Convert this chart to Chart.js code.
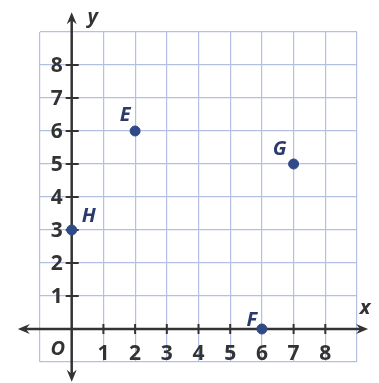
<!DOCTYPE html>
<html><head><meta charset="utf-8">
<script src="https://cdn.jsdelivr.net/npm/chart.js@4"></script>
<style>html,body{margin:0;padding:0;background:#fff;}canvas{display:block;}</style>
</head><body>
<canvas id="c" width="379" height="383"></canvas>
<script>
const pointNames = ['E', 'G', 'H', 'F'];
const xValues = [2, 7, 0, 6];
const yValues = [6, 5, 3, 0];
const xTickLabels = ['1','2','3','4','5','6','7','8'];
const yTickLabels = ['1','2','3','4','5','6','7','8'];
const axisMin = -1, axisMax = 9;

const labelOffsets = {E:[-10,-16], G:[-14,-15], H:[17,-14], F:[-10,-9]};

const overlay = {
  id: 'overlay',
  beforeDatasetsDraw(chart) {
    const ctx = chart.ctx, xs = chart.scales.x, ys = chart.scales.y;
    const ox = xs.getPixelForValue(0), oy = ys.getPixelForValue(0);
    ctx.save();
    ctx.strokeStyle = '#333'; ctx.fillStyle = '#333'; ctx.lineWidth = 2.5;
    const yTop = ys.getPixelForValue(9.6), yBot = ys.getPixelForValue(-1.6);
    const xL = xs.getPixelForValue(-1.7), xR = xs.getPixelForValue(9.35);
    ctx.beginPath(); ctx.moveTo(ox, yTop + 6); ctx.lineTo(ox, yBot - 6); ctx.stroke();
    ctx.beginPath(); ctx.moveTo(xL + 6, oy); ctx.lineTo(xR - 6, oy); ctx.stroke();
    function arrow(x, y, dx, dy) {
      const px = -dy, py = dx;
      ctx.beginPath();
      ctx.moveTo(x, y);
      ctx.lineTo(x - dx*12 + px*5, y - dy*12 + py*5);
      ctx.lineTo(x - dx*8, y - dy*8);
      ctx.lineTo(x - dx*12 - px*5, y - dy*12 - py*5);
      ctx.closePath(); ctx.fill();
    }
    arrow(ox, yTop, 0, -1); arrow(ox, yBot, 0, 1);
    arrow(xL, oy, -1, 0); arrow(xR, oy, 1, 0);
    ctx.lineWidth = 2;
    xTickLabels.forEach(t => { const p = xs.getPixelForValue(+t);
      ctx.beginPath(); ctx.moveTo(p, oy - 5); ctx.lineTo(p, oy + 5); ctx.stroke(); });
    yTickLabels.forEach(t => { const p = ys.getPixelForValue(+t);
      ctx.beginPath(); ctx.moveTo(ox - 6, p); ctx.lineTo(ox + 7, p); ctx.stroke(); });
    ctx.font = 'bold 21px "Open Sans", sans-serif';
    ctx.textAlign = 'center'; ctx.textBaseline = 'middle';
    xTickLabels.forEach(t => ctx.fillText(t, xs.getPixelForValue(+t), oy + 25));
    ctx.textAlign = 'right';
    yTickLabels.forEach(t => ctx.fillText(t, ox - 9, ys.getPixelForValue(+t) + 1));
    ctx.font = 'italic bold 20px "Open Sans", sans-serif';
    ctx.textAlign = 'center';
    ctx.fillText('O', ox - 14, oy + 20);
    ctx.fillText('y', ox + 21, ys.getPixelForValue(9.45));
    ctx.fillText('x', xs.getPixelForValue(9.0) + 8, oy - 21);
    ctx.restore();
  },
  afterDatasetsDraw(chart) {
    const ctx = chart.ctx, xs = chart.scales.x, ys = chart.scales.y;
    ctx.save();
    ctx.font = 'italic bold 20px "Open Sans", sans-serif';
    ctx.fillStyle = '#2b3a6b'; ctx.textAlign = 'center'; ctx.textBaseline = 'middle';
    pointNames.forEach((n, i) => {
      const o = labelOffsets[n];
      ctx.fillText(n, xs.getPixelForValue(xValues[i]) + o[0], ys.getPixelForValue(yValues[i]) + o[1]);
    });
    ctx.restore();
  }
};

const gridStyle = { color: '#b3bfe3', lineWidth: 1.2, drawTicks: false };
new Chart(document.getElementById('c'), {
  type: 'scatter',
  data: { datasets: [{
    data: pointNames.map((n, i) => ({x: xValues[i], y: yValues[i]})),
    backgroundColor: '#2f4a86', borderColor: '#2f4a86',
    pointRadius: 5, pointHoverRadius: 5
  }]},
  options: {
    responsive: false, animation: false,
    layout: { padding: { left: 40, right: 22, top: 32, bottom: 21 } },
    plugins: { legend: { display: false }, tooltip: { enabled: false } },
    scales: {
      x: { type: 'linear', min: axisMin, max: axisMax, ticks: { display: false, stepSize: 1 },
           grid: gridStyle, border: { display: false }, afterFit(s) { s.height = 0; } },
      y: { type: 'linear', min: axisMin, max: axisMax, ticks: { display: false, stepSize: 1 },
           grid: gridStyle, border: { display: false }, afterFit(s) { s.width = 0; } }
    }
  },
  plugins: [overlay]
});
</script>
</body></html>
